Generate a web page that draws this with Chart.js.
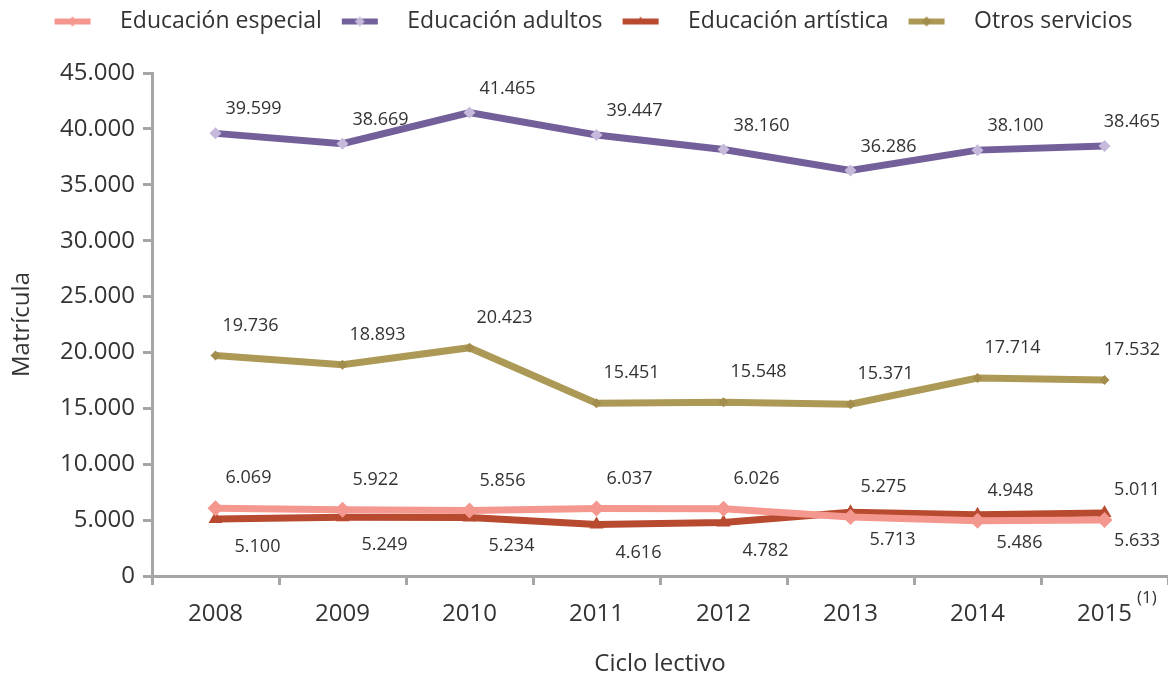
<!DOCTYPE html>
<html>
<head>
<meta charset="utf-8">
<script src="https://cdn.jsdelivr.net/npm/chart.js@4"></script>
<style>
  html, body { margin: 0; padding: 0; background: #fff; }
  #wrap { width: 1168px; height: 674px; }
</style>
</head>
<body>
<div id="wrap"><canvas id="chart"></canvas></div>
<script>
const years = ['2008', '2009', '2010', '2011', '2012', '2013', '2014', '2015'];
const especial = [6069, 5922, 5856, 6037, 6026, 5275, 4948, 5011];
const adultos = [39599, 38669, 41465, 39447, 38160, 36286, 38100, 38465];
const artistica = [5100, 5249, 5234, 4616, 4782, 5713, 5486, 5633];
const otros = [19736, 18893, 20423, 15451, 15548, 15371, 17714, 17532];

const FONT = '"Open Sans", "Noto Sans", sans-serif';
const TEXT = '#333333';
const AXIS = '#a6a6a6';

const fmt = v => v.toLocaleString('de-DE');

// legend sample: a short thick line with the marker on it
function legendSample(color, markerColor, style) {
  const c = document.createElement('canvas');
  c.width = 64; c.height = 14;
  const g = c.getContext('2d');
  g.fillStyle = color;
  g.fillRect(10, 4, 36, 6);
  g.fillStyle = markerColor;
  g.beginPath();
  if (style === 'triangle') {
    g.moveTo(28, 2); g.lineTo(33, 10); g.lineTo(23, 10);
  } else {
    g.moveTo(28, 2); g.lineTo(33, 7); g.lineTo(28, 12); g.lineTo(23, 7);
  }
  g.closePath();
  g.fill();
  return c;
}

const series = [
  { label: 'Educación especial', data: especial, color: '#f4978e', marker: '#f4978e', style: 'rectRot', r: 8, dx: 33, dy: -30 },
  { label: 'Educación adultos', data: adultos, color: '#73609a', marker: '#c6b9dc', style: 'rectRot', r: 6, dx: 38, dy: -24 },
  { label: 'Educación artística', data: artistica, color: '#b84a2f', marker: '#b84a2f', style: 'triangle', r: 8, dx: 42, dy: 28 },
  { label: 'Otros servicios', data: otros, color: '#ad9956', marker: '#a28d4c', style: 'rectRot', r: 5, dx: 35, dy: -30 }
];

// value labels next to each point, kept inside the canvas
const valueLabels = {
  id: 'valueLabels',
  afterDatasetsDraw(chart) {
    const ctx = chart.ctx;
    ctx.save();
    ctx.font = '18px ' + FONT;
    ctx.fillStyle = TEXT;
    ctx.textAlign = 'center';
    ctx.textBaseline = 'middle';
    chart.data.datasets.forEach((ds, i) => {
      chart.getDatasetMeta(i).data.forEach((pt, j) => {
        const txt = fmt(ds.data[j]);
        const half = ctx.measureText(txt).width / 2;
        const x = Math.min(pt.x + ds.labelDx, chart.width - 8 - half);
        ctx.fillText(txt, x, pt.y + ds.labelDy);
      });
    });
    ctx.restore();
  }
};

// footnote mark after the last year
const footnote = {
  id: 'footnote',
  afterDraw(chart) {
    const x = chart.scales.x;
    const ctx = chart.ctx;
    ctx.save();
    ctx.font = '24px ' + FONT;
    const w = ctx.measureText(years[years.length - 1]).width;
    const px = x.getPixelForTick(years.length - 1) + w / 2 + 5;
    ctx.font = '17px ' + FONT;
    ctx.fillStyle = TEXT;
    ctx.textBaseline = 'middle';
    ctx.fillText('(1)', px, 598);
    ctx.restore();
  }
};

// room between legend and plot
const legendSpace = {
  id: 'legendSpace',
  beforeInit(chart) {
    const fit = chart.legend.fit;
    chart.legend.fit = function () {
      fit.bind(chart.legend)();
      this.height = 73;
    };
  }
};

new Chart(document.getElementById('chart'), {
  type: 'line',
  data: {
    labels: years,
    datasets: series.map(s => ({
      label: s.label,
      data: s.data,
      borderColor: s.color,
      backgroundColor: s.marker,
      borderWidth: 7,
      pointStyle: s.style,
      pointRadius: s.r,
      pointBorderWidth: 0,
      pointBackgroundColor: s.marker,
      pointHoverRadius: s.r,
      tension: 0,
      fill: false,
      clip: false,
      labelDx: s.dx,
      labelDy: s.dy,
      sample: legendSample(s.color, s.marker, s.style)
    }))
  },
  options: {
    responsive: true,
    maintainAspectRatio: false,
    animation: false,
    layout: { autoPadding: false, padding: { top: 0, right: -5, bottom: 0, left: 4 } },
    scales: {
      x: {
        offset: true,
        grid: { offset: true, drawOnChartArea: false, drawTicks: true, tickLength: 9, tickWidth: 3, tickColor: AXIS },
        border: { color: AXIS, width: 3 },
        ticks: { color: TEXT, font: { family: FONT, size: 24 }, padding: 15, maxRotation: 0 },
        title: { display: true, text: 'Ciclo lectivo', color: TEXT, font: { family: FONT, size: 24, lineHeight: 0.8 }, padding: 0 },
        afterFit(scale) {
          scale.height = 98;
          scale.paddingLeft = 0;
          scale.paddingRight = 0;
        }
      },
      y: {
        min: 0,
        max: 45000,
        grid: { drawOnChartArea: false, drawTicks: true, tickLength: 9, tickWidth: 3, tickColor: AXIS },
        border: { color: AXIS, width: 3 },
        ticks: { stepSize: 5000, color: TEXT, font: { family: FONT, size: 24 }, padding: 8, callback: v => fmt(v) },
        title: { display: true, text: 'Matrícula', color: TEXT, font: { family: FONT, size: 24 }, padding: { bottom: 6 } },
        afterFit(scale) { scale.width = 148; }
      }
    },
    plugins: {
      legend: {
        position: 'top',
        labels: {
          color: TEXT,
          font: { family: FONT, size: 23 },
          usePointStyle: true,
          pointStyleWidth: 64,
          padding: 10,
          generateLabels(chart) {
            return chart.data.datasets.map((ds, i) => ({
              text: ds.label,
              fontColor: TEXT,
              pointStyle: ds.sample,
              datasetIndex: i,
              hidden: false,
              lineWidth: 0,
              strokeStyle: 'transparent',
              fillStyle: 'transparent'
            }));
          }
        }
      },
      tooltip: { enabled: false }
    }
  },
  plugins: [valueLabels, footnote, legendSpace]
});
</script>
</body>
</html>
